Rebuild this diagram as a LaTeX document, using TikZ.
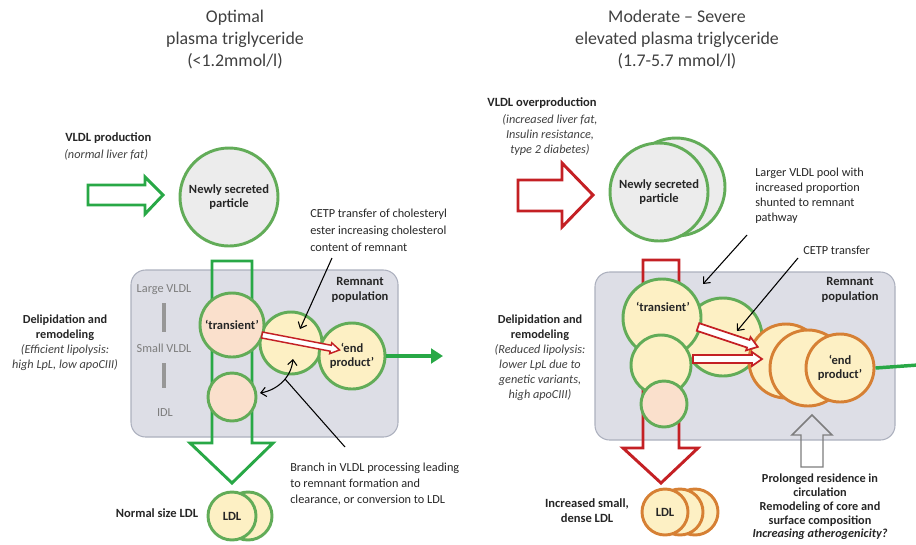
\documentclass[tikz,border=0pt]{standalone}
\usepackage{fontspec}
\setmainfont{Carlito}
\usetikzlibrary{arrows.meta,calc}
\definecolor{cgreen}{RGB}{98,172,88}
\definecolor{agreen}{RGB}{40,168,70}
\definecolor{cred}{RGB}{196,32,36}
\definecolor{corange}{RGB}{214,128,52}
\definecolor{peach}{RGB}{250,224,204}
\definecolor{lyellow}{RGB}{253,240,196}
\definecolor{lgray}{RGB}{236,236,236}
\definecolor{boxfill}{RGB}{221,222,230}
\definecolor{boxline}{RGB}{172,176,190}
\definecolor{txt}{RGB}{38,38,38}
\definecolor{ttl}{RGB}{64,64,64}
\definecolor{gtxt}{RGB}{125,125,125}
\newcommand\hollowarr[8]{%
 \begin{scope}[shift={(#1,#2)},rotate=#3]
 \draw[#8] (0,-#5) -- ({#4-#7},-#5) -- ({#4-#7},-#6) -- (#4,0) -- ({#4-#7},#6) -- ({#4-#7},#5) -- (0,#5) -- cycle;
 \end{scope}}
\begin{document}
\begin{tikzpicture}[x=0.75pt,y=-0.75pt,
  part/.style={circle, draw=cgreen, line width=2.2pt, inner sep=0pt, align=center,
    font=\bfseries\fontsize{9.4}{10.5}\selectfont, text=txt},
  opart/.style={part, draw=corange},
  rad/.style={minimum size=#1*1.5pt},
  title/.style={align=center, inner sep=0pt, text=ttl, font=\fontsize{13.4}{16.5}\selectfont},
  lbl/.style={align=center, inner sep=0pt, text=txt, font=\fontsize{9.2}{11.25}\selectfont},
  blbl/.style={lbl, font=\bfseries\fontsize{9.4}{11.25}\selectfont},
  ilbl/.style={lbl, text=ttl, font=\itshape\fontsize{9.2}{11.25}\selectfont},
  glbl/.style={lbl, text=gtxt},
  gbar/.style={draw=gtxt!80, line width=3pt},
  bigarrow/.style={line width=2.2pt},
  conn/.style={draw=black, line width=0.8pt, -{Straight Barb[length=4pt,width=7pt]}},
  dconn/.style={draw=black, line width=0.8pt, {Straight Barb[length=4pt,width=7pt]}-{Straight Barb[length=4pt,width=7pt]}},
  rembox/.style={draw=boxline, fill=boxfill, rounded corners=11pt, line width=0.8pt}
]
\useasboundingbox (0,0) rectangle (916,544);

% ---------------- titles ----------------
\node[title] (t1) at (235,40) {Optimal\\plasma triglyceride\\(<1.2mmol/l)};
\node[title] (t2) at (677,40) {Moderate – Severe\\elevated plasma triglyceride\\(1.7-5.7 mmol/l)};

% ================= LEFT PANEL =================
\node[blbl, anchor=west] (prodL) at (65,138) {VLDL production};
\node[ilbl, anchor=west] (prodLi) at (64,155) {(normal liver fat)};
\draw[agreen, bigarrow] (88,185) -- (145,185) -- (145,177) -- (163,195) -- (145,214) -- (145,205) -- (88,205) -- cycle;

\node[part, rad=49, fill=lgray] (newL) at (229,197) {Newly secreted\\particle};

\node[lbl, anchor=west, align=left, font=\fontsize{9.2}{12.75}\selectfont] (cetpL) at (310,230)
  {CETP transfer of cholesteryl\\ester increasing cholesterol\\content of remnant};

\draw[rembox] (131,270) rectangle (398,437);
\draw[agreen, bigarrow] (212,261) -- (252,261) -- (252,443) -- (273,443) -- (232,483) -- (190,443) -- (212,443) -- cycle;

\node[glbl] (lvL) at (164,290) {Large VLDL};
\node[glbl] (svL) at (164,348) {Small VLDL};
\node[glbl] (idlLab) at (165,413) {IDL};
\draw[gbar] (164,303) -- (164,332);
\draw[gbar] (164,363) -- (164,388);

\node[part, rad=31, fill=lyellow] (remL) at (291,343) {};
\node[part, rad=32, fill=peach] (transL) at (232,325) {‘transient’};
\node[part, rad=24, fill=peach] (idlL) at (232,397) {};
\node[part, rad=33, fill=lyellow] (endL) at (352,356) {‘end\\product’};

\node[blbl] (remPopL) at (360,289.5) {Remnant\\population};

\hollowarr{262}{335}{-10.9}{79}{3}{5.5}{9}{cred, fill=white, line width=1.1pt}

\coordinate (outL) at (443,356);
\draw[agreen, line width=2.6pt, -{Triangle[length=9pt,width=11pt]}] (endL.east) -- (outL);

\coordinate (cetpAL) at (332,258);
\coordinate (cetpTL) at (300,329);
\draw[conn] (cetpAL) -- (cetpTL);

\coordinate (dblA) at (293,359);
\coordinate (dblB) at (260,393);
\draw[dconn] (dblA) .. controls (291,378) and (277,390) .. (dblB);

\coordinate (brA) at (285,379);
\coordinate (brB) at (345,447);
\draw[black, line width=0.8pt] (brA) -- (brB);
\node[lbl, anchor=west, align=left, font=\fontsize{9.2}{12}\selectfont] (brL) at (290,484)
  {Branch in VLDL processing leading\\to remnant formation and\\clearance, or conversion to LDL};

\node[lbl] (delL) at (65,342.5) {\textbf{Delipidation and}\\\textbf{remodeling}\\\textit{\color{ttl}(Efficient lipolysis:}\\\textit{\color{ttl}high LpL, low apoCIII)}};

\node[part, rad=24, fill=lyellow] (ldlL2) at (248,516) {};
\node[part, rad=24, fill=lyellow] (ldlL) at (232,516) {LDL};
\node[blbl] (normL) at (157,513) {Normal size LDL};

% ================= RIGHT PANEL =================
\node[blbl] (prodR) at (542,103) {VLDL overproduction};
\node[ilbl, font=\itshape\fontsize{9.2}{11.25}\selectfont] (prodRi) at (550,135) {(increased liver fat,\\Insulin resistance,\\type 2 diabetes)};
\draw[cred, bigarrow] (518,180) -- (562,180) -- (562,163) -- (593,195) -- (562,227) -- (562,211) -- (518,211) -- cycle;

\node[part, rad=49, fill=lgray] (newR2) at (676,187) {};
\node[part, rad=49, fill=lgray] (newR) at (659,192) {Newly secreted\\particle};

\node[lbl, anchor=west, align=left] (poolR) at (755,195.5)
  {Larger VLDL pool with\\increased proportion\\shunted to remnant\\pathway};
\node[lbl, anchor=west] (cetpR) at (803,250) {CETP transfer};

\draw[rembox] (595,272) rectangle (895,440);
\draw[cred, bigarrow] (643,260) -- (679,260) -- (679,448) -- (698,448) -- (661,483) -- (623,448) -- (643,448) -- cycle;

\node[part, rad=39, fill=lyellow] (remR) at (723,337) {};
\node[part, rad=39, fill=lyellow] (transR) at (662,318) {};
\node[part, rad=30, fill=lyellow] (smR) at (661,365) {};
\node[part, rad=23, fill=peach] (idlR) at (664,404) {};
\node[blbl] at (663,307) {‘transient’};

\node[opart, rad=37, fill=lyellow] (endR1) at (786,361) {};
\node[opart, rad=38, fill=lyellow] (endR2) at (808,368) {};
\node[opart, rad=34, fill=lyellow] (endR) at (840,368) {‘end\\product’};

\node[blbl] (remPopR) at (850,289.5) {Remnant\\population};

\hollowarr{698}{327}{-18.4}{63}{4}{7}{10}{cred, fill=white, line width=1.3pt}
\hollowarr{693}{359}{0}{69}{4}{7}{10}{cred, fill=white, line width=1.3pt}

\coordinate (outR) at (918,365);
\draw[agreen, line width=2.6pt] (endR.east) -- (outR);

\coordinate (poolAR) at (747,235);
\coordinate (poolTR) at (703,284);
\draw[conn] (poolAR) -- (poolTR);
\coordinate (cetpAR) at (798,258);
\coordinate (cetpTR) at (737,331);
\draw[conn] (cetpAR) -- (cetpTR);

\draw[gtxt, line width=1.1pt] (801,467) -- (801,435) -- (792,435) -- (812,415) -- (832,435) -- (823,435) -- (823,467) -- cycle;

\node[lbl] (delR) at (540,357.5) {\textbf{Delipidation and}\\\textbf{remodeling}\\\textit{\color{ttl}(Reduced lipolysis:}\\\textit{\color{ttl}lower LpL due to}\\\textit{\color{ttl}genetic variants,}\\\textit{\color{ttl}high apoCIII)}};

\node[lbl, font=\bfseries\fontsize{9.2}{10.3}\selectfont] (prolR) at (820,507) {Prolonged residence in\\circulation\\Remodeling of core and\\surface composition\\\textit{Increasing atherogenicity?}};

\node[opart, rad=23, fill=lyellow] (ldlR3) at (695,512) {};
\node[opart, rad=23, fill=lyellow] (ldlR2) at (680,512) {};
\node[opart, rad=23, fill=lyellow] (ldlR) at (665,512) {LDL};
\node[blbl] (incR) at (587,510.5) {Increased small,\\dense LDL};
\end{tikzpicture}
\end{document}
